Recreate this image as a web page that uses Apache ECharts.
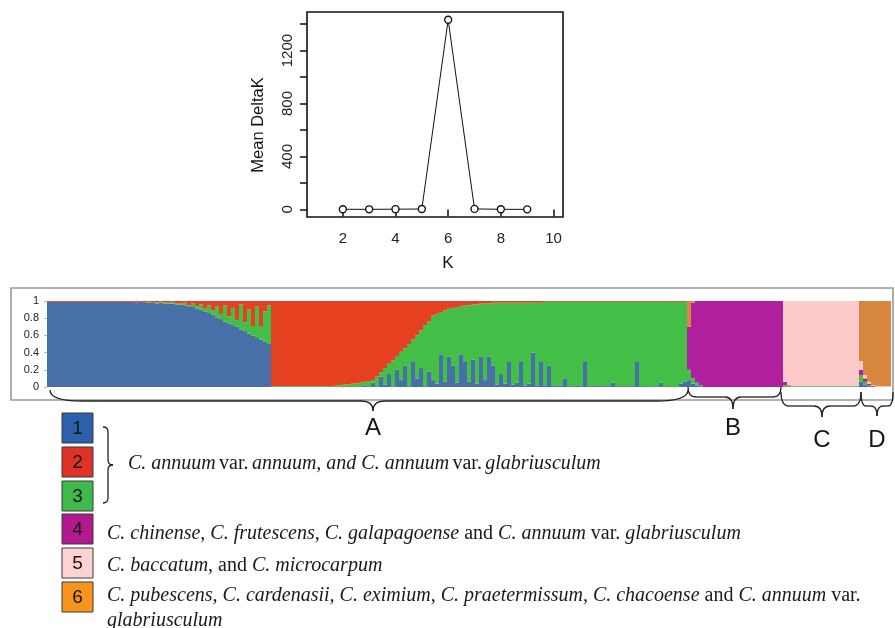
<!DOCTYPE html>
<html>
<head>
<meta charset="utf-8">
<title>Mean DeltaK and STRUCTURE plot (K = 6)</title>
<script src="https://cdn.jsdelivr.net/npm/echarts@6/dist/echarts.min.js"></script>
<style>
    html, body { margin: 0; padding: 0; background: #fff; }
    #chart { width: 895px; height: 628px; }
</style>
</head>
<body>
<div id="chart"></div>
<script>
// ---- Evanno DeltaK plot ----
const kValues = [2, 3, 4, 5, 6, 7, 8, 9];
const meanDeltaK = [1.2, 0.9, 2.1, 3.4, 1432, 4.2, 1.0, 0.6];
const kTicks = [2, 4, 6, 8, 10];
const deltaTicks = [0, 200, 400, 600, 800, 1000, 1200, 1400];
const deltaLabels = [0, 400, 800, 1200];

// ---- STRUCTURE bar plot, K = 6 ----
const clusterNames = ['1', '2', '3', '4', '5', '6'];
const barColors = ['#4870a6', '#e5401f', '#43bf48', '#b01f9e', '#fdcaca', '#d8873f'];
const legendColors = ['#2d60aa', '#de3326', '#3fba4a', '#b3188f', '#fdd2d2', '#f7941d'];
// bottom-to-top order of the clusters in each column
const stackOrder = [0, 2, 1, 3, 4, 5];
const qTicks = [0, 0.2, 0.4, 0.6, 0.8, 1];
const qTickLabels = ['0', '0.2', '0.4', '0.6', '0.8', '1'];

// block 1 (mostly cluster 1): blue, red; green fills the rest
const blk1Blue = [
    .99, .99, .99, .99, .99, .99, .99, .99, .99, .99,
    .99, .99, .99, .99, .99, .99, .99, .99, .99, .99,
    .99, .99, .98, .99, .98, .98, .98, .97, .98, .97,
    .97, .97, .96,
    .96, .95, .94, .93, .91, .90, .88, .86, .84, .81, .79, .76,
    .74, .72, .70, .67, .65, .62, .60, .57, .55, .53, .50
];
const blk1Red = [
    .01, .01, .01, .01, .01, .01, .01, .01, .01, .01,
    .01, .01, .01, .01, .01, .01, .01, .01, .01, .01,
    .01, .01, .02, .01, .02, .01, .02, .02, .01, .02,
    .02, .01, .03,
    .03, .02, .05, .03, .06, .04, .09, .05, .11, .06, .15, .05,
    .18, .08, .22, .04, .25, .10, .30, .06, .30, .12, .05
];
// block 2 (mostly cluster 2): blue, green; red fills the rest
const blk2Blue = [
    0, 0, 0, 0, 0, 0, 0, 0, 0, 0, 0, 0, 0, 0, 0, 0, 0, 0, 0, 0, 0, 0, 0,
    .02, 0, .05, 0, .12, .03, .15, 0, .20, .08, .25, 0, .30, .10, .22, 0, .18
];
const blk2Green = [
    .01, .01, .01, .01, .01, .01, .01, .01, .01, .01, .01, .01, .01, .01, .01, .01,
    .02, .02, .03, .03, .04, .04, .05, .04, .07, .03, .12, .05,
    .19, .12, .31, .16, .33, .20, .50, .25, .50, .44, .72, .58
];
// block 3 (mostly cluster 3): blue, red; green fills the rest
const blk3Blue = [
    .08, .04, .38, .06, .35, .25, .05, .38, .30, .06, .32, .04, .35, .08, .35, .25,
    .03, .15, .04, .30, .03, .05, .30, .02, .04, .40, .02, .30, .02, .25, .02, .01,
    .02, .10, .01, .01, .02, .01, .30, .01, .01, .02, .01, .01, .01, .05, .01, .01,
    .01, .01, .01, .30, .01, .01, 0, .01, 0, .05, 0, .01, 0, 0, .04, .06
];
const blk3Red = [
    .17, .15, .13, .11, .09, .08, .07, .06, .05, .05, .04, .04, .03, .03, .03, .02,
    .02, .02, .02, .02, .02, .02, .02, .02, .02, .02, .02, .02, .01, .01, .01, .01,
    .01, .01, .01, .01, .01, .01, .01, .01, .01, .01, .01, .01, .01, .01, .01, .01,
    .01, .01, .01, .01, .01, .01, .01, .01, .01, .01, .01, .01, .01, .01, .01, .01
];
// block 4 (cluster 4): blue, green, orange; purple fills the rest
const blk4Blue = [.08, .04, .02, .01, 0, 0, 0, 0, 0, 0, 0, 0, 0, 0, 0, 0, 0, 0, 0, 0, 0, 0, 0, 0];
const blk4Green = [.12, .06, .03, .01, 0, 0, 0, 0, 0, 0, 0, 0, 0, 0, 0, 0, 0, 0, 0, 0, 0, 0, 0, 0];
const blk4Orange = [.30, .02, 0, 0, 0, 0, 0, 0, 0, 0, 0, 0, 0, 0, 0, 0, 0, 0, 0, 0, 0, 0, 0, 0];
// block 5 (cluster 5): green, purple; pink fills the rest
const blk5Green = [.02, .01, .01, .01, .01, .01, .01, .01, .01, .01, .01, .01, .01, .01, .01, .01, .01, .01, .01];
const blk5Purple = [.04, .01, 0, 0, 0, 0, 0, 0, 0, 0, 0, 0, 0, 0, 0, 0, 0, 0, 0];
// block 6 (cluster 6): blue, green, purple, pink; orange fills the rest
const blk6Blue = [.06, .03, .01, 0, 0, 0, 0, 0];
const blk6Green = [.08, .03, .01, 0, 0, 0, 0, 0];
const blk6Purple = [.06, .04, .02, .01, 0, 0, 0, 0];
const blk6Pink = [.10, .04, .02, .01, .01, .01, .01, .01];

const blocks = [
    { rest: 2, parts: { 0: blk1Blue, 1: blk1Red } },
    { rest: 1, parts: { 0: blk2Blue, 2: blk2Green } },
    { rest: 2, parts: { 0: blk3Blue, 1: blk3Red } },
    { rest: 3, parts: { 0: blk4Blue, 2: blk4Green, 5: blk4Orange } },
    { rest: 4, parts: { 2: blk5Green, 3: blk5Purple } },
    { rest: 5, parts: { 0: blk6Blue, 2: blk6Green, 3: blk6Purple, 4: blk6Pink } }
];

const groupLabels = ['A', 'B', 'C', 'D'];
const legendLines = [
    '{i|C. annuum} {n|var.} {i|annuum, and C. annuum} {n|var.} {i|glabriusculum}',
    '{i|C. chinense, C. frutescens, C. galapagoense}{n| and }{i|C. annuum}{n| var. }{i|glabriusculum}',
    '{i|C. baccatum,}{n| and }{i|C. microcarpum}',
    '{i|C. pubescens, C. cardenasii, C. eximium, C. praetermissum, C. chacoense}{n| and }{i|C. annuum}{n| var.}',
    '{i|glabriusculum}'
];

// Build the Q matrix (one array per cluster) from the blocks
const q = clusterNames.map(() => []);
blocks.forEach(b => {
    const n = b.parts[Object.keys(b.parts)[0]].length;
    for (let i = 0; i < n; i++) {
        let used = 0;
        for (let c = 0; c < clusterNames.length; c++) {
            if (c === b.rest) continue;
            const v = b.parts[c] ? b.parts[c][i] : 0;
            q[c].push(v);
            used += v;
        }
        q[b.rest].push(+(1 - used).toFixed(3));
    }
});
const individuals = q[0].map((_, i) => String(i + 1));

// ---- annotation helpers ----
const ink = { stroke: '#222', lineWidth: 1.3, fill: 'none' };

function hBrace(x1, x2, xm, yTop, yH, yTip, r1, r2) {
    return [
        { type: 'bezierCurve', shape: { x1: x1, y1: yTop, cpx1: x1, cpy1: yH, x2: x1 + r1, y2: yH }, style: ink },
        { type: 'line', shape: { x1: x1 + r1, y1: yH, x2: xm - r2, y2: yH }, style: ink },
        { type: 'bezierCurve', shape: { x1: xm - r2, y1: yH, cpx1: xm, cpy1: yH, x2: xm, y2: yTip }, style: ink },
        { type: 'bezierCurve', shape: { x1: xm, y1: yTip, cpx1: xm, cpy1: yH, x2: xm + r2, y2: yH }, style: ink },
        { type: 'line', shape: { x1: xm + r2, y1: yH, x2: x2 - r1, y2: yH }, style: ink },
        { type: 'bezierCurve', shape: { x1: x2 - r1, y1: yH, cpx1: x2, cpy1: yH, x2: x2, y2: yTop }, style: ink }
    ];
}

function vBrace(xL, xM, xTip, y1, y2, ym, r) {
    return [
        { type: 'bezierCurve', shape: { x1: xL, y1: y1, cpx1: xM, cpy1: y1, x2: xM, y2: y1 + r }, style: ink },
        { type: 'line', shape: { x1: xM, y1: y1 + r, x2: xM, y2: ym - r }, style: ink },
        { type: 'bezierCurve', shape: { x1: xM, y1: ym - r, cpx1: xM, cpy1: ym, x2: xTip, y2: ym }, style: ink },
        { type: 'bezierCurve', shape: { x1: xTip, y1: ym, cpx1: xM, cpy1: ym, x2: xM, y2: ym + r }, style: ink },
        { type: 'line', shape: { x1: xM, y1: ym + r, x2: xM, y2: y2 - r }, style: ink },
        { type: 'bezierCurve', shape: { x1: xM, y1: y2 - r, cpx1: xM, cpy1: y2, x2: xL, y2: y2 }, style: ink }
    ];
}

function label(text, x, y, size, extra) {
    return Object.assign({
        type: 'text', x: x, y: y,
        style: {
            text: text, fill: '#151515', align: 'center', verticalAlign: 'middle',
            font: size + 'px "Liberation Sans", Arial, sans-serif'
        }
    }, extra || {});
}

const sans = '"Liberation Sans", Arial, sans-serif';
const serif = '"Liberation Serif", "Times New Roman", serif';
const rich = {
    i: { fontFamily: serif, fontStyle: 'italic', fontSize: 20, fill: '#1a1a1a' },
    n: { fontFamily: serif, fontSize: 20, fill: '#1a1a1a' }
};

const graphics = [];
// frame around the bar plot
graphics.push({ type: 'rect', shape: { x: 11, y: 288, width: 882, height: 112 }, style: { stroke: '#9a9a9a', lineWidth: 1.6, fill: 'none' } });
// DeltaK axis titles
graphics.push(label('Mean DeltaK', 258, 125, 16.5, { rotation: Math.PI / 2 }));
graphics.push(label('K', 448, 263, 17));
// cluster numbers inside the bar plot
[[128, 346], [319, 346], [550, 346], [733, 346], [817, 346], [878, 346]].forEach((p, i) => {
    graphics.push(label(clusterNames[i], p[0], p[1], 18));
});
// group braces A-D
hBrace(50, 688, 373, 390, 401, 411, 32, 12).forEach(g => graphics.push(g));
hBrace(688, 781, 733, 387, 397, 409, 8, 8).forEach(g => graphics.push(g));
hBrace(781, 861, 822, 392, 406, 417, 8, 8).forEach(g => graphics.push(g));
hBrace(861, 893, 877, 392, 406, 416, 5, 6).forEach(g => graphics.push(g));
[[373, 428], [733, 428], [822, 440], [877, 440]].forEach((p, i) => {
    graphics.push(label(groupLabels[i], p[0], p[1], 24));
});
// legend boxes
const boxTops = [413, 447, 481, 514, 548, 582];
boxTops.forEach((y, i) => {
    graphics.push({ type: 'rect', shape: { x: 62, y: y, width: 31, height: 30 }, style: { fill: legendColors[i], stroke: '#3a3a3a', lineWidth: 1 } });
    graphics.push(label(clusterNames[i], 77.5, y + 15.5, 19));
});
vBrace(103, 108, 113, 427, 503, 465, 5).forEach(g => graphics.push(g));
// legend texts
[[128, 464], [107, 534], [107, 566], [107, 596], [107, 621]].forEach((p, i) => {
    graphics.push({
        type: 'text', x: p[0], y: p[1],
        style: { text: legendLines[i], rich: rich, verticalAlign: 'middle', align: 'left' }
    });
});

const option = {
    animation: false,
    backgroundColor: '#fff',
    textStyle: { fontFamily: sans },
    grid: [
        { left: 307, top: 12, width: 256, height: 205, show: true, borderColor: '#111', borderWidth: 1.6 },
        { left: 47, top: 301, width: 844, height: 86 }
    ],
    xAxis: [
        {
            gridIndex: 0, type: 'value', min: 0.64, max: 10.36,
            axisLine: { show: false },
            axisTick: { show: true, customValues: kTicks, length: 7, lineStyle: { color: '#111', width: 1.5 } },
            axisLabel: { customValues: kTicks, fontSize: 15, color: '#222', margin: 14 },
            splitLine: { show: false }
        },
        {
            gridIndex: 1, type: 'category', data: individuals,
            axisLine: { show: false }, axisTick: { show: false }, axisLabel: { show: false }
        }
    ],
    yAxis: [
        {
            gridIndex: 0, type: 'value', min: -57, max: 1491,
            axisLine: { show: false },
            axisTick: { show: true, customValues: deltaTicks, length: 7, lineStyle: { color: '#111', width: 1.5 } },
            axisLabel: {
                customValues: deltaLabels, rotate: 90, fontSize: 15, color: '#222', margin: 12,
                formatter: v => String(v)
            },
            splitLine: { show: false }
        },
        {
            gridIndex: 1, type: 'value', min: 0, max: 1,
            axisLine: { show: false },
            axisTick: { show: true, customValues: qTicks, length: 3, lineStyle: { color: '#bbb' } },
            axisLabel: {
                customValues: qTicks, fontSize: 11, color: '#222', margin: 8,
                formatter: v => qTickLabels[qTicks.indexOf(Math.round(v * 10) / 10)]
            },
            splitLine: { show: false }
        }
    ],
    series: [
        {
            name: 'Mean DeltaK', type: 'line', xAxisIndex: 0, yAxisIndex: 0,
            data: kValues.map((k, i) => [k, meanDeltaK[i]]),
            symbol: 'circle', symbolSize: 7,
            itemStyle: { color: '#fff', borderColor: '#111', borderWidth: 1.4 },
            lineStyle: { color: '#111', width: 1 }
        }
    ].concat(stackOrder.map(c => ({
        name: 'Cluster ' + clusterNames[c], type: 'bar', stack: 'q', xAxisIndex: 1, yAxisIndex: 1,
        barCategoryGap: '0%', data: q[c],
        itemStyle: { color: barColors[c] }
    }))),
    graphic: { elements: graphics }
};

const chart = echarts.init(document.getElementById('chart'), null, { renderer: 'canvas' });
chart.setOption(option);
</script>
</body>
</html>
